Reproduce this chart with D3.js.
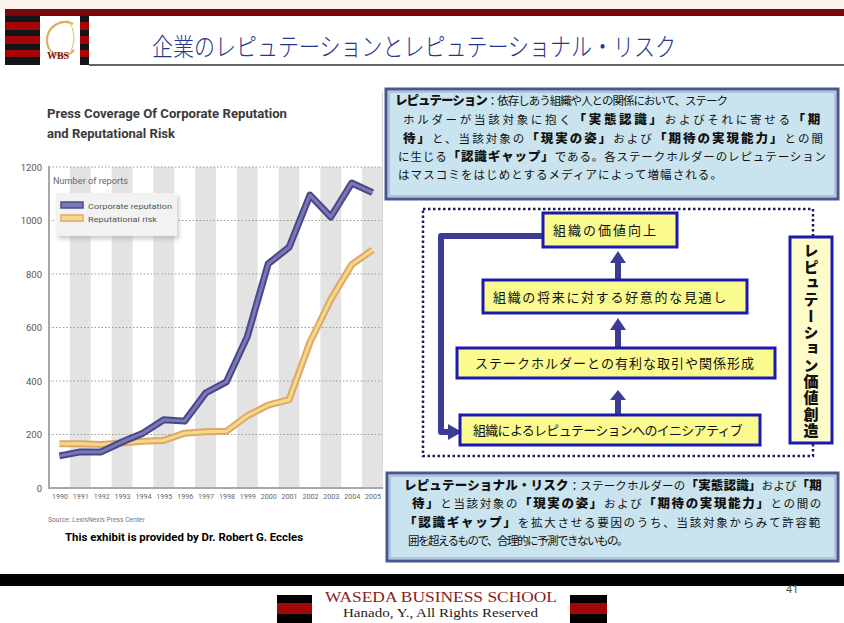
<!DOCTYPE html>
<html><head><meta charset="utf-8">
<script src="https://cdn.jsdelivr.net/npm/d3@7"></script>
<style>body{margin:0;background:#fff}svg{display:block}</style>
</head><body><svg id="s" width="844" height="623"></svg>
<script>
// ---------- data ----------
const years = [1990,1991,1992,1993,1994,1995,1996,1997,1998,1999,2000,2001,2002,2003,2004,2005];
const corporateReputation = [120,135,135,172,205,255,250,355,397,566,838,900,1095,1013,1140,1104];
const reputationalRisk    = [165,165,163,168,175,178,205,210,212,270,310,330,545,705,835,890];
const yTicks = [0,200,400,600,800,1000,1200];
const seriesNames = ["Corporate reputation","Reputational risk"];
const chartTitle = ["Press Coverage Of Corporate Reputation","and Reputational Risk"];
const yAxisTitle = "Number of reports";
const sourceNote = "Source: LexisNexis Press Center";
const creditNote = "This exhibit is provided by Dr. Robert G. Eccles";
const slideTitle = "企業のレピュテーションとレピュテーショナル・リスク";
const reputationDef = [
  [["レピュテーション",1],["：依存しあう組織や人との関係において、ステーク",0]],
  [["ホルダーが当該対象に抱く",0],["「実態認識」",1],["およびそれに寄せる",0],["「期",1]],
  [["待」",1],["と、当該対象の",0],["「現実の姿」",1],["および",0],["「期待の実現能力」",1],["との間",0]],
  [["に生じる",0],["「認識ギャップ」",1],["である。各ステークホルダーのレピュテーション",0]],
  [["はマスコミをはじめとするメディアによって増幅される。",0]]
];
const riskDef = [
  [["レピュテーショナル・リスク",1],["：ステークホルダーの",0],["「実態認識」",1],["および",0],["「期",1]],
  [["待」",1],["と当該対象の",0],["「現実の姿」",1],["および",0],["「期待の実現能力」",1],["との間の",0]],
  [["「認識ギャップ」",1],["を拡大させる要因のうち、当該対象からみて許容範",0]],
  [["囲を超えるもので、合理的に予測できないもの。",0]]
];
const flowSteps = ["組織の価値向上","組織の将来に対する好意的な見通し","ステークホルダーとの有利な取引や関係形成","組織によるレピュテーションへのイニシアティブ"];
const sideLabel = "レピュテーション価値創造";
const footerSchool = "WASEDA BUSINESS SCHOOL";
const footerRights = "Hanado, Y., All Rights Reserved";
const pageNo = "41";

// ---------- helpers ----------
const svg = d3.select("#s");
const JP = "'Noto Sans CJK JP','Noto Sans CJK SC',sans-serif";
const EN = "Roboto,'Liberation Sans',sans-serif";
function fitSpacing(sel, target){
  sel.each(function(){
    const n = this.textContent.length;
    const w = this.getComputedTextLength();
    d3.select(this).attr("letter-spacing", ((target - w)/n).toFixed(3));
  });
}
function squeeze(sel, target){ sel.attr("textLength", target).attr("lengthAdjust","spacingAndGlyphs"); }

// ---------- header ----------
svg.append("rect").attr("x",0).attr("y",0).attr("width",844).attr("height",9).attr("fill","#fbf2ec");
svg.append("rect").attr("x",5).attr("y",9).attr("width",839).attr("height",7).attr("fill","#7a0808");
const stripeRows = [[16,22,"#151515"],[22,30,"#a30606"],[30,36,"#151515"],[36,44,"#a30606"],[44,50,"#151515"],[50,57,"#a30606"],[57,65,"#151515"]];
[[5,35],[80,9]].forEach(([sx,sw])=>{
  stripeRows.forEach(([a,b,c])=>svg.append("rect").attr("x",sx).attr("y",a).attr("width",sw).attr("height",b-a).attr("fill",c));
});
svg.append("rect").attr("x",40).attr("y",16).attr("width",40).attr("height",48).attr("fill","#fff");
svg.append("path").attr("d","M73,24 C62,18 46,26 47,42 C48,56 66,60 74,50").attr("fill","none").attr("stroke","#d8b060").attr("stroke-width",2.2);
svg.append("path").attr("d","M68,20 C74,28 76,40 70,54").attr("fill","none").attr("stroke","#e4c888").attr("stroke-width",1.2);
svg.append("text").attr("x",58).attr("y",59).attr("text-anchor","middle").attr("font-family","'Liberation Serif',serif").attr("font-weight","bold").attr("font-size",10).attr("fill","#7a1010").text("WBS");
svg.append("line").attr("x1",89).attr("x2",844).attr("y1",65).attr("y2",65).attr("stroke","#333").attr("stroke-width",1.5);
const tt = svg.append("text").attr("x",152).attr("y",56).attr("font-family",JP).attr("font-weight",300).attr("font-size",25).attr("fill","#24378a").text(slideTitle);
squeeze(tt, 524);

// ---------- chart ----------
const x = d3.scaleLinear().domain([years[0]-0.5, years[years.length-1]+0.5]).range([49,383]);
const y = d3.scaleLinear().domain([0,1200]).range([488,167]);
const g = svg.append("g");
years.filter(d=>d%2===1).forEach(d=>{
  g.append("rect").attr("x",x(d-0.5)).attr("y",y(1200)).attr("width",x(d+0.5)-x(d-0.5)).attr("height",y(0)-y(1200)).attr("fill","#e3e3e3");
});
const gy = g.append("g").attr("transform","translate(49,0)")
  .call(d3.axisLeft(y).tickValues(yTicks).tickFormat(d3.format("d")).tickSize(0).tickPadding(7));
gy.select(".domain").remove();
gy.selectAll("text").attr("font-family",EN).attr("font-size",9.5).attr("fill","#555").attr("dy","0.34em");
g.selectAll("line.grid").data(yTicks.filter(d=>d>0)).enter().append("line").attr("class","grid")
  .attr("x1",49).attr("x2",383).attr("y1",d=>y(d)).attr("y2",d=>y(d))
  .attr("stroke","#9a9a9a").attr("stroke-width",1).attr("stroke-dasharray","1.5,2");
const gx = g.append("g").attr("transform","translate(0,488)")
  .call(d3.axisBottom(x).tickValues(years).tickFormat(d3.format("d")).tickSize(0).tickPadding(6));
gx.select(".domain").remove();
gx.selectAll("text").attr("font-family",EN).attr("font-size",7).attr("fill","#666").each(function(){squeeze(d3.select(this),16);});
g.append("line").attr("x1",49).attr("x2",49).attr("y1",166).attr("y2",489).attr("stroke","#a8a8a8").attr("stroke-width",2);
g.append("line").attr("x1",48).attr("x2",383).attr("y1",488).attr("y2",488).attr("stroke","#a8a8a8").attr("stroke-width",2);

const line = d3.line().x((d,i)=>x(years[i])).y(d=>y(d));
g.append("path").datum(reputationalRisk).attr("d",line).attr("fill","none").attr("stroke","#e2a56c").attr("stroke-width",7).attr("stroke-linejoin","round");
g.append("path").datum(reputationalRisk).attr("d",line).attr("fill","none").attr("stroke","#f1dc86").attr("stroke-width",3).attr("stroke-linejoin","round");
g.append("path").datum(corporateReputation).attr("d",line).attr("fill","none").attr("stroke","#4b4886").attr("stroke-width",7).attr("stroke-linejoin","round");
g.append("path").datum(corporateReputation).attr("d",line).attr("fill","none").attr("stroke","#7a78b8").attr("stroke-width",3).attr("stroke-linejoin","round");

// legend
const defs = svg.append("defs");
defs.append("filter").attr("id","blur").append("feGaussianBlur").attr("stdDeviation",2);
g.append("rect").attr("x",58).attr("y",196).attr("width",121).attr("height",43).attr("fill","#999").attr("opacity",0.5).attr("filter","url(#blur)");
g.append("rect").attr("x",56).attr("y",193).attr("width",121).attr("height",43).attr("fill","#f2f2f2");
const legCols = [["#4b4886","#7a78b8"],["#e2a56c","#f1dc86"]];
seriesNames.forEach((nm,i)=>{
  const yy = 202 + i*13;
  g.append("rect").attr("x",61).attr("y",yy).attr("width",22).attr("height",6).attr("fill",legCols[i][1]).attr("stroke",legCols[i][0]).attr("stroke-width",1.5);
  const t = g.append("text").attr("x",88).attr("y",yy+6.5).attr("font-family",EN).attr("font-size",8).attr("fill","#555").text(nm);
  squeeze(t, i===0?84:69);
});
squeeze(g.append("text").attr("x",53).attr("y",184).attr("font-family",EN).attr("font-size",9).attr("fill","#666").text(yAxisTitle),75);
squeeze(svg.append("text").attr("x",47).attr("y",118).attr("font-family",EN).attr("font-weight","bold").attr("font-size",13).attr("fill","#3a3a3a").text(chartTitle[0]),240);
squeeze(svg.append("text").attr("x",47).attr("y",138).attr("font-family",EN).attr("font-weight","bold").attr("font-size",13).attr("fill","#3a3a3a").text(chartTitle[1]),128);
squeeze(svg.append("text").attr("x",48).attr("y",522).attr("font-family",EN).attr("font-size",7).attr("fill","#777").text(sourceNote),97);
squeeze(svg.append("text").attr("x",65).attr("y",541).attr("font-family",EN).attr("font-weight","bold").attr("font-size",11).attr("fill","#000").text(creditNote),238);
svg.append("line").attr("x1",382.5).attr("x2",382.5).attr("y1",92).attr("y2",470).attr("stroke","#d6d6d6").attr("stroke-width",1);

// ---------- definition boxes ----------
function defBox(x0,y0,w,h,lines){
  svg.append("rect").attr("x",x0).attr("y",y0).attr("width",w).attr("height",h).attr("fill","#c9e4ee").attr("stroke","#4a5690").attr("stroke-width",3);
  svg.append("rect").attr("x",x0+3).attr("y",y0+3).attr("width",w-6).attr("height",h-6).attr("fill","none").attr("stroke","#9aa2c8").attr("stroke-width",1);
  lines.forEach(L=>{
    const t = svg.append("text").attr("x",L.x0).attr("y",L.y).attr("font-family",JP).attr("fill","#111");
    L.segs.forEach(([s,b])=>t.append("tspan").attr("font-weight",b?"900":"400").attr("font-size",b?12.5:11.5).text(s));
    fitSpacing(t, L.x1-L.x0);
  });
}
defBox(386,89,452,110,[
  {x0:395,x1:727,y:105,segs:reputationDef[0]},
  {x0:403,x1:823,y:124,segs:reputationDef[1]},
  {x0:403,x1:825,y:143,segs:reputationDef[2]},
  {x0:398,x1:827,y:161,segs:reputationDef[3]},
  {x0:398,x1:723,y:179,segs:reputationDef[4]}
]);
defBox(387,473,451,88,[
  {x0:404,x1:822,y:490,segs:riskDef[0]},
  {x0:412,x1:823,y:508,segs:riskDef[1]},
  {x0:404,x1:822,y:527,segs:riskDef[2]},
  {x0:408,x1:627,y:545,segs:riskDef[3]}
]);

// ---------- flow diagram ----------
svg.append("rect").attr("x",423).attr("y",209).attr("width",390).attr("height",247).attr("fill","none")
  .attr("stroke","#1c1c66").attr("stroke-width",2.5).attr("stroke-dasharray","2.5,2.5");
const arrowC = "#3c3c94";
svg.append("path").attr("d","M545,236 H441 V432 H450").attr("fill","none").attr("stroke",arrowC).attr("stroke-width",6).attr("stroke-linejoin","round");
svg.append("path").attr("d","M448,424 L462,432 L448,440 Z").attr("fill",arrowC);
const boxes = [
  {x0:543,x1:677,y0:213,y1:247,tx0:553,tx1:658},
  {x0:483,x1:747,y0:280,y1:313,tx0:493,tx1:728},
  {x0:457,x1:775,y0:348,y1:378,tx0:475,tx1:755},
  {x0:460,x1:760,y0:415,y1:445,tx0:473,tx1:742}
];
const arrows = [[251,263,280],[318,330,348],[390,400,415]];
arrows.forEach(([tip,base,end])=>{
  svg.append("rect").attr("x",615).attr("y",base-1).attr("width",6).attr("height",end-base+1).attr("fill",arrowC);
  svg.append("path").attr("d",`M610,${base} L618,${tip} L626,${base} Z`).attr("fill",arrowC);
});
flowSteps.forEach((s,i)=>{
  const b = boxes[i];
  svg.append("rect").attr("x",b.x0).attr("y",b.y0).attr("width",b.x1-b.x0).attr("height",b.y1-b.y0).attr("fill","#fbfa8e").attr("stroke","#1a1ab0").attr("stroke-width",3);
  const t = svg.append("text").attr("x",b.tx0).attr("y",(b.y0+b.y1)/2+5).attr("font-family",JP).attr("font-size",13).attr("fill","#111").text(s);
  fitSpacing(t, b.tx1-b.tx0);
});
svg.append("rect").attr("x",790).attr("y",237).attr("width",42).attr("height",206).attr("fill","#fdfcc8").attr("stroke","#1a1ab0").attr("stroke-width",3);
const vt = svg.append("text").attr("x",811).attr("y",243).attr("font-family",JP).attr("font-size",15).attr("font-weight","900").attr("fill","#111")
  .style("writing-mode","vertical-rl").text(sideLabel);
fitSpacing(vt, 196);

// ---------- footer ----------
svg.append("rect").attr("x",0).attr("y",574).attr("width",844).attr("height",12).attr("fill","#000");
[[277,35],[570,37]].forEach(([fx,fw])=>{
  svg.append("rect").attr("x",fx).attr("y",595).attr("width",fw).attr("height",28).attr("fill","#000");
  svg.append("rect").attr("x",fx).attr("y",603).attr("width",fw).attr("height",11).attr("fill","#a30606");
});
squeeze(svg.append("text").attr("x",325).attr("y",602).attr("font-family","'Liberation Serif',serif").attr("font-size",15).attr("fill","#8b1a1a").text(footerSchool),232);
squeeze(svg.append("text").attr("x",343).attr("y",617).attr("font-family","'Liberation Serif',serif").attr("font-size",12).attr("fill","#222").text(footerRights),195);
svg.append("text").attr("x",786).attr("y",593).attr("font-family",EN).attr("font-size",11).attr("fill","#555").text(pageNo);
</script></body></html>
